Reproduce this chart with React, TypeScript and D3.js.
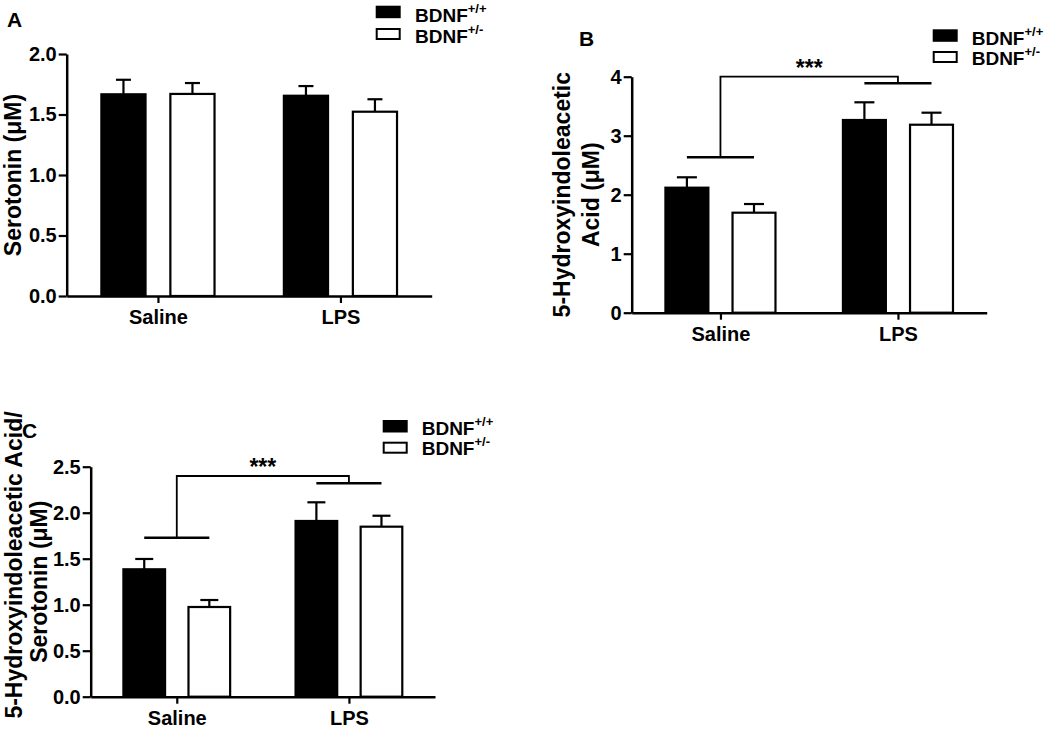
import React, { useEffect, useRef } from "react";
import * as d3 from "d3";

// ---------- data ----------
const categories = ["Saline", "LPS"];
const genotypes = ["+/+", "+/-"];

// Panel A: Serotonin (µM)
const serotoninWT = [1.667, 1.655];
const serotoninHet = [1.67, 1.523];
const serotoninWTErr = [0.12, 0.08];
const serotoninHetErr = [0.09, 0.103];

// Panel B: 5-HIAA (µM)
const hiaaWT = [2.119, 3.266];
const hiaaHet = [1.695, 3.186];
const hiaaWTErr = [0.176, 0.3];
const hiaaHetErr = [0.147, 0.204];

// Panel C: 5-HIAA / Serotonin
const ratioWT = [1.385, 1.91];
const ratioHet = [0.975, 1.848];
const ratioWTErr = [0.112, 0.203];
const ratioHetErr = [0.076, 0.119];

const yTicksA = [0, 0.5, 1, 1.5, 2];
const yTicksB = [0, 1, 2, 3, 4];
const yTicksC = [0, 0.5, 1, 1.5, 2, 2.5];

// significance bracket levels: [Saline line, LPS line, top]
const sigB = [2.634, 3.888, 4.0];
const sigC = [1.728, 2.32, 2.399];
const sigLabel = "***";

// ---------- layout ----------
const FONT = "'Liberation Sans', Arial, Helvetica, sans-serif";

const panels = [
  {
    label: "A", labelPos: [7, 27],
    wt: serotoninWT, het: serotoninHet, wtErr: serotoninWTErr, hetErr: serotoninHetErr,
    ticks: yTicksA, fmt: ".1f", domain: [0, 2],
    box: { l: 66.7, r: 431.7, t: 54, b: 296 }, cap: 15,
    sig: null as null | number[],
    titles: [{ text: "Serotonin (\u03bcM)", x: 21, y: 175, size: 23 }],
    legend: { x: 375.7, y1: 5.7, y2: 28, tx: 415, b1: 22, b2: 43 },
  },
  {
    label: "B", labelPos: [579, 46],
    wt: hiaaWT, het: hiaaHet, wtErr: hiaaWTErr, hetErr: hiaaHetErr,
    ticks: yTicksB, fmt: "d", domain: [0, 4],
    box: { l: 631.7, r: 986.7, t: 76.7, b: 312.7 }, cap: 20,
    sig: sigB,
    titles: [
      { text: "5-Hydroxyindoleacetic", x: 570, y: 194.7, size: 23 },
      { text: "Acid (\u03bcM)", x: 598.5, y: 194.7, size: 23 },
    ],
    legend: { x: 932.7, y1: 29.3, y2: 51, tx: 971.7, b1: 45, b2: 65 },
  },
  {
    label: "C", labelPos: [22, 438],
    wt: ratioWT, het: ratioHet, wtErr: ratioWTErr, hetErr: ratioHetErr,
    ticks: yTicksC, fmt: ".1f", domain: [0, 2.5],
    box: { l: 90.7, r: 435, t: 466.7, b: 696.7 }, cap: 18,
    sig: sigC,
    titles: [
      { text: "5-Hydroxyindoleacetic Acid/", x: 22, y: 565, size: 23 },
      { text: "Serotonin (\u03bcM)", x: 47, y: 581.7, size: 23 },
    ],
    legend: { x: 382.7, y1: 420, y2: 441.7, tx: 421.7, b1: 435, b2: 455 },
  },
];

export default function App() {
  const ref = useRef<SVGSVGElement | null>(null);

  useEffect(() => {
    const svg = d3.select(ref.current);
    svg.selectAll("*").remove();
    svg.append("rect").attr("width", 1050).attr("height", 729).attr("fill", "#fff");

    panels.forEach((p) => {
      const g = svg.append("g");
      const { l, r, t, b } = p.box;
      const y = d3.scaleLinear().domain(p.domain).range([b, t]);
      const x = d3.scalePoint<string>().domain(categories).range([l, r]).padding(0.5);
      const step = x.step();
      const groupW = step * 0.62;
      const inner = d3.scaleBand<string>().domain(genotypes).range([-groupW / 2, groupW / 2]).paddingInner(0.36);
      const bw = inner.bandwidth();

      // bars
      categories.forEach((c, ci) => {
        const vals = [p.wt[ci], p.het[ci]];
        const errs = [p.wtErr[ci], p.hetErr[ci]];
        genotypes.forEach((gt, gi) => {
          const bx = (x(c) as number) + (inner(gt) as number);
          const cx = bx + bw / 2;
          const top = y(vals[gi] + errs[gi]);
          g.append("line").attr("x1", cx).attr("x2", cx).attr("y1", y(vals[gi])).attr("y2", top)
            .attr("stroke", "#000").attr("stroke-width", 2.2);
          g.append("line").attr("x1", cx - p.cap / 2).attr("x2", cx + p.cap / 2).attr("y1", top).attr("y2", top)
            .attr("stroke", "#000").attr("stroke-width", 2.2);
          g.append("rect")
            .attr("x", bx).attr("y", y(vals[gi]))
            .attr("width", bw).attr("height", y(0) - y(vals[gi]))
            .attr("fill", gi === 0 ? "#000" : "#fff")
            .attr("stroke", "#000").attr("stroke-width", 2.2);
        });
      });

      // axes
      const yAxis = d3.axisLeft(y).tickValues(p.ticks).tickSize(8).tickSizeOuter(0).tickPadding(2)
        .tickFormat(d3.format(p.fmt) as any);
      const ya = g.append("g").attr("transform", `translate(${l},0)`).call(yAxis);
      const xAxis = d3.axisBottom(x).tickSize(7).tickSizeOuter(0).tickPadding(7);
      const xa = g.append("g").attr("transform", `translate(0,${b})`).call(xAxis);
      [ya, xa].forEach((a) => {
        a.select(".domain").attr("stroke-width", 2.5).attr("stroke", "#000");
        a.selectAll(".tick line").attr("stroke-width", 2.2).attr("stroke", "#000");
        a.selectAll(".tick text").attr("font-family", FONT).attr("font-weight", "bold")
          .attr("font-size", 20).attr("fill", "#000");
      });

      // significance bracket
      if (p.sig) {
        const [sLine, lLine, topV] = p.sig;
        const xs = x("Saline") as number;
        const xl = x("LPS") as number;
        const hw = groupW * 0.305;
        g.append("line").attr("x1", xs - hw).attr("x2", xs + hw).attr("y1", y(sLine)).attr("y2", y(sLine))
          .attr("stroke", "#000").attr("stroke-width", 2.6);
        g.append("line").attr("x1", xl - hw).attr("x2", xl + hw).attr("y1", y(lLine)).attr("y2", y(lLine))
          .attr("stroke", "#000").attr("stroke-width", 2.6);
        g.append("path")
          .attr("d", `M${xs},${y(sLine)}V${y(topV)}H${xl}V${y(lLine)}`)
          .attr("fill", "none").attr("stroke", "#000").attr("stroke-width", 1.8);
        g.append("text").attr("x", (xs + xl) / 2).attr("y", y(topV) - 1)
          .attr("text-anchor", "middle").attr("font-family", FONT).attr("font-weight", "bold")
          .attr("font-size", 23).text(sigLabel);
      }

      // y titles
      p.titles.forEach((tt) => {
        g.append("text").attr("transform", `translate(${tt.x},${tt.y}) rotate(-90)`)
          .attr("text-anchor", "middle").attr("font-family", FONT).attr("font-weight", "bold")
          .attr("font-size", tt.size).text(tt.text);
      });

      // panel label
      g.append("text").attr("x", p.labelPos[0]).attr("y", p.labelPos[1])
        .attr("font-family", FONT).attr("font-weight", "bold").attr("font-size", 21).text(p.label);

      // legend
      const lg = p.legend;
      g.append("rect").attr("x", lg.x).attr("y", lg.y1).attr("width", 25).attr("height", 12.5).attr("fill", "#000");
      g.append("rect").attr("x", lg.x + 1).attr("y", lg.y2 + 1).attr("width", 23).attr("height", 10)
        .attr("fill", "#fff").attr("stroke", "#000").attr("stroke-width", 2);
      [lg.b1, lg.b2].forEach((bl, i) => {
        const tx = g.append("text").attr("x", lg.tx).attr("y", bl)
          .attr("font-family", FONT).attr("font-weight", "bold").attr("font-size", 19);
        tx.append("tspan").text("BDNF");
        tx.append("tspan").attr("dy", -9).attr("font-size", 13).text(genotypes[i]);
      });
    });
  }, []);

  return (
    <svg
      ref={ref}
      width={1050}
      height={729}
      style={{ position: "absolute", left: 0, top: 0, display: "block" }}
    />
  );
}
